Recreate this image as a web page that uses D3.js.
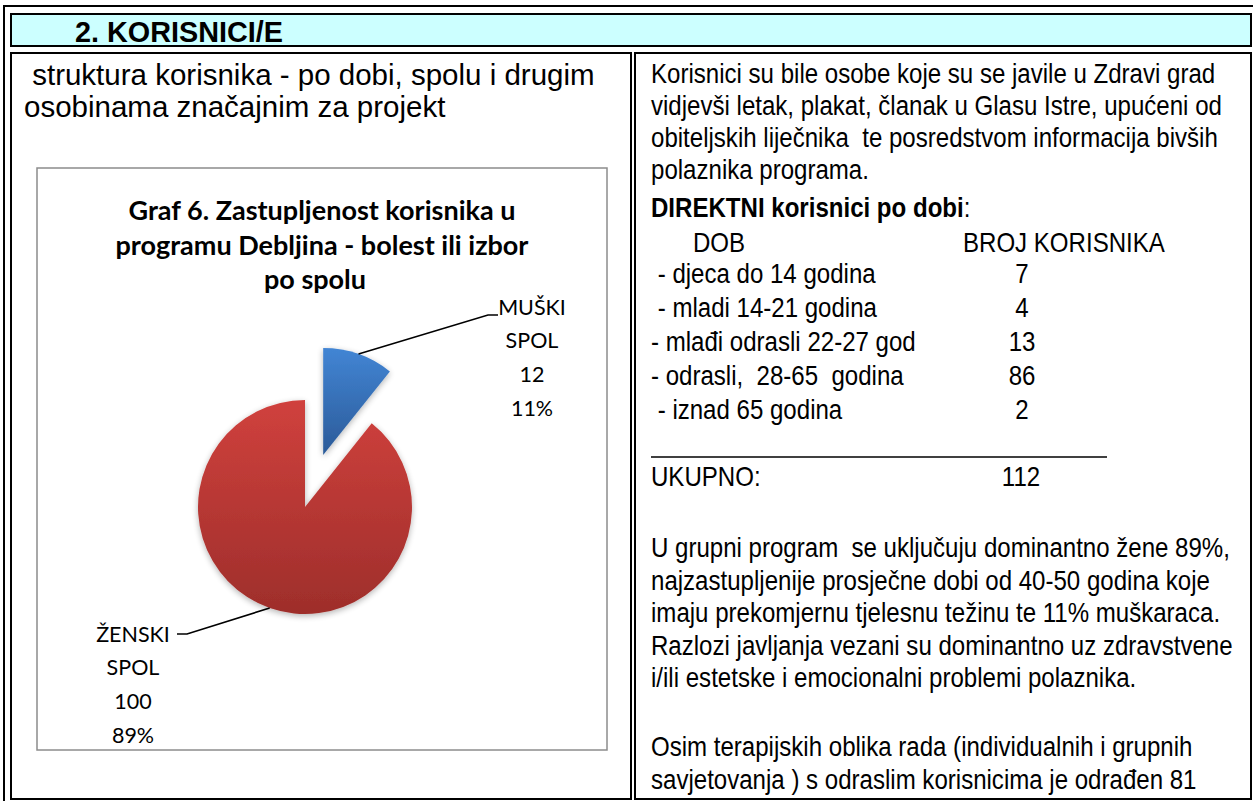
<!DOCTYPE html>
<html>
<head>
<meta charset="utf-8">
<script src="https://cdn.jsdelivr.net/npm/d3@7"></script>
<style>
  body { margin: 0; background: #fff; }
  svg text { white-space: pre; }
</style>
</head>
<body>
<div id="page"></div>
<script>
// pie data: users by sex
const genderLabels = ["MUŠKI SPOL", "ŽENSKI SPOL"];
const genderValues = [12, 100];

// table data: users by age
const ageGroups = [" - djeca do 14 godina", " - mladi 14-21 godina", "- mlađi odrasli 22-27 god", "- odrasli,  28-65  godina", " - iznad 65 godina"];
const ageCounts = [7, 4, 13, 86, 2];

const chartTitle = ["Graf 6. Zastupljenost korisnika u", "programu Debljina - bolest ili izbor", "po spolu"];

const para1 = [
  "Korisnici su bile osobe koje su se javile u Zdravi grad",
  "vidjevši letak, plakat, članak u Glasu Istre, upućeni od",
  "obiteljskih liječnika  te posredstvom informacija bivših",
  "polaznika programa."
];
const para2 = [
  "U grupni program  se uključuju dominantno žene 89%,",
  "najzastupljenije prosječne dobi od 40-50 godina koje",
  "imaju prekomjernu tjelesnu težinu te 11% muškaraca.",
  "Razlozi javljanja vezani su dominantno uz zdravstvene",
  "i/ili estetske i emocionalni problemi polaznika."
];
const para3 = [
  "Osim terapijskih oblika rada (individualnih i grupnih",
  "savjetovanja ) s odraslim korisnicima je odrađen 81"
];

const W = 1253, H = 801;
const svg = d3.select("#page").append("svg")
  .attr("width", W).attr("height", H);

const arialF = "'Liberation Sans', Arial, sans-serif";
const calibriF = "Lato, 'Open Sans', sans-serif";

// ---- frame / table borders
svg.append("path")
  .attr("d", `M4,${H} L4,6 L${W},6`)
  .attr("fill", "none").attr("stroke", "#000").attr("stroke-width", 2);

svg.append("rect")
  .attr("x", 11).attr("y", 14).attr("width", 1240).attr("height", 32)
  .attr("fill", "#ccffff").attr("stroke", "#000").attr("stroke-width", 2);

svg.append("rect")
  .attr("x", 11).attr("y", 53).attr("width", 620).attr("height", 746)
  .attr("fill", "#fff").attr("stroke", "#000").attr("stroke-width", 2);
svg.append("rect")
  .attr("x", 635).attr("y", 53).attr("width", 616).attr("height", 746)
  .attr("fill", "#fff").attr("stroke", "#000").attr("stroke-width", 2);

svg.append("text")
  .attr("x", 75).attr("y", 41.5)
  .attr("font-family", arialF).attr("font-weight", "bold").attr("font-size", 28.8)
  .text("2. KORISNICI/E");

// ---- left cell heading
const lh = svg.append("g").attr("font-family", arialF).attr("font-size", 29.5);
lh.append("text").attr("x", 24).attr("y", 85).text(" struktura korisnika - po dobi, spolu i drugim");
lh.append("text").attr("x", 24).attr("y", 117).text("osobinama značajnim za projekt");

// ---- chart box
svg.append("rect")
  .attr("x", 37).attr("y", 168).attr("width", 570).attr("height", 582)
  .attr("fill", "#fff").attr("stroke", "#8c8c8c").attr("stroke-width", 1.5);

svg.append("g")
  .attr("font-family", calibriF).attr("font-weight", "bold").attr("font-size", 27)
  .attr("text-anchor", "middle")
  .selectAll("text").data(chartTitle).join("text")
  .attr("x", (d, i) => i === 2 ? 315 : 322)
  .attr("y", (d, i) => 220 + i * 34.5)
  .text(d => d);

// gradients + shadow
const defs = svg.append("defs");
const grads = [["#4285d4", "#2b5a98"], ["#d0413d", "#9e2e2b"]];
grads.forEach((c, i) => {
  const g = defs.append("linearGradient").attr("id", "grad" + i)
    .attr("x1", 0).attr("y1", 0).attr("x2", 0).attr("y2", 1);
  g.append("stop").attr("offset", "0%").attr("stop-color", c[0]);
  g.append("stop").attr("offset", "100%").attr("stop-color", c[1]);
});
const f = defs.append("filter").attr("id", "shadow")
  .attr("x", "-20%").attr("y", "-20%").attr("width", "140%").attr("height", "140%");
f.append("feGaussianBlur").attr("in", "SourceAlpha").attr("stdDeviation", 3).attr("result", "b");
f.append("feOffset").attr("in", "b").attr("dy", 2).attr("result", "o");
f.append("feComponentTransfer").attr("in", "o").attr("result", "s")
  .append("feFuncA").attr("type", "linear").attr("slope", 0.3);
const fm = f.append("feMerge");
fm.append("feMergeNode").attr("in", "s");
fm.append("feMergeNode").attr("in", "SourceGraphic");

const cx = 305, cy = 507, r = 107, explode = 55;
const pie = d3.pie().sort(null)(genderValues);
const arc = d3.arc().innerRadius(0).outerRadius(r);
const pct = d3.format(".0%");
const total = d3.sum(genderValues);

const pieG = svg.append("g").attr("transform", `translate(${cx},${cy})`);
const offs = pie.map((p, i) => {
  const a = (p.startAngle + p.endAngle) / 2;
  const e = i === 0 ? explode : 0;
  return [Math.sin(a) * e, -Math.cos(a) * e, a];
});

pieG.selectAll("path").data(pie).join("path")
  .attr("d", arc)
  .attr("transform", (d, i) => `translate(${offs[i][0]},${offs[i][1]})`)
  .attr("fill", (d, i) => `url(#grad${i})`)
  .attr("filter", "url(#shadow)");

// leader lines + labels
const labelPos = [
  { lx: 532, ly: 314.5, bend: [488, 315], end: [498, 315] },
  { lx: 133, ly: 641.5, bend: [187, 634], end: [177, 634] }
];
pie.forEach((p, i) => {
  const a = offs[i][2];
  const sx = cx + offs[i][0] + Math.sin(a) * r;
  const sy = cy + offs[i][1] - Math.cos(a) * r;
  const L = labelPos[i];
  svg.append("polyline")
    .attr("points", `${sx},${sy} ${L.bend[0]},${L.bend[1]} ${L.end[0]},${L.end[1]}`)
    .attr("fill", "none").attr("stroke", "#000").attr("stroke-width", 1.6);
  const words = genderLabels[i].split(" ").concat([String(genderValues[i]), pct(genderValues[i] / total)]);
  svg.append("g")
    .attr("font-family", calibriF).attr("font-size", 21.5).attr("text-anchor", "middle")
    .selectAll("text").data(words).join("text")
    .attr("x", L.lx).attr("y", (d, j) => L.ly + j * 33.7)
    .text(d => d);
});

// ---- right cell text (narrow Arial look)
const kx = 0.875, fs = 27.5;
function line(x, y, txt, bold, anchor) {
  const t = svg.append("text")
    .attr("transform", `translate(${x},${y}) scale(${kx},1)`)
    .attr("font-family", arialF).attr("font-size", fs)
    .attr("text-anchor", anchor || "start");
  if (bold) t.attr("font-weight", "bold");
  t.text(txt);
  return t;
}
para1.forEach((s, i) => line(651, 83 + i * 32, s));
const dir = line(651, 217, "DIREKTNI korisnici po dobi", true);
dir.append("tspan").attr("font-weight", "normal").text(":");
line(693, 252, "DOB");
line(963, 252, "BROJ KORISNIKA");
ageGroups.forEach((g, i) => {
  line(651, 283 + i * 34, g);
  line(1022, 283 + i * 34, String(ageCounts[i]), false, "middle");
});
svg.append("line")
  .attr("x1", 651).attr("x2", 1107).attr("y1", 457).attr("y2", 457)
  .attr("stroke", "#000").attr("stroke-width", 1.5);
line(651, 486, "UKUPNO:");
line(1021, 486, String(d3.sum(ageCounts)), false, "middle");
para2.forEach((s, i) => line(651, 557 + i * 32.5, s));
para3.forEach((s, i) => line(651, 756 + i * 33, s));
</script>
</body>
</html>
